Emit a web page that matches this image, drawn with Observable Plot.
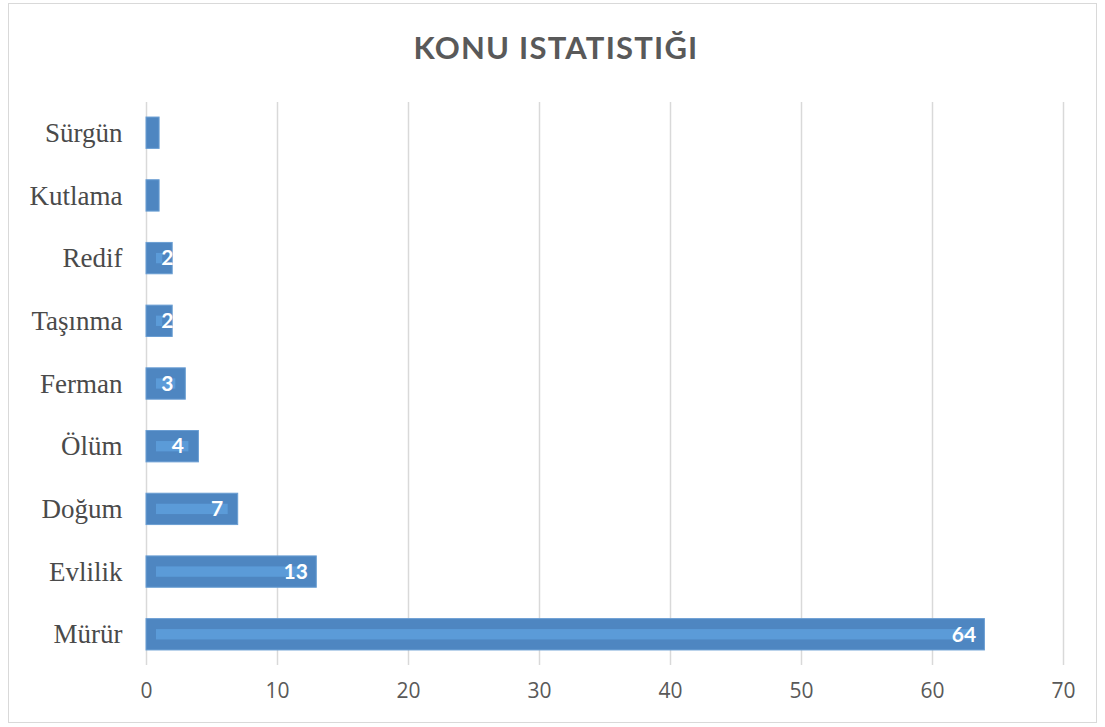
<!DOCTYPE html>
<html>
<head>
<meta charset="utf-8">
<script src="https://cdn.jsdelivr.net/npm/d3@7"></script>
<script src="https://cdn.jsdelivr.net/npm/@observablehq/plot@0.6"></script>
<style>
  html, body { margin: 0; padding: 0; background: #fff; }
  #wrap { position: relative; width: 1105px; height: 727px; overflow: hidden; }
  #frame { position: absolute; left: 8px; top: 3px; width: 1089px; height: 720px; border: 1px solid #d9d9d9; box-sizing: border-box; }
  #title { position: absolute; left: 8px; width: 1096px; top: 28px; text-align: center;
           font-family: Lato, "Open Sans", sans-serif; font-weight: bold; font-size: 31px;
           letter-spacing: 1.2px; color: #595959; }
  #chart { position: absolute; left: 0; top: 90px; }
</style>
</head>
<body>
<div id="wrap">
  <div id="frame"></div>
  <div id="title">KONU ISTATISTIĞI</div>
  <div id="chart"></div>
</div>
<script>
const categories = ["Sürgün", "Kutlama", "Redif", "Taşınma", "Ferman", "Ölüm", "Doğum", "Evlilik", "Mürür"];
const values = [1, 1, 2, 2, 3, 4, 7, 13, 64];
const xTicks = [0, 10, 20, 30, 40, 50, 60, 70];

const data = categories.map((c, i) => ({category: c, value: values[i]}));
const labeled = data.filter(d => d.value >= 2);

const plot = Plot.plot({
  width: 1105,
  height: 630,
  marginLeft: 146,
  marginRight: 42,
  marginTop: 12,
  marginBottom: 55,
  style: {background: "transparent"},
  x: {domain: [0, 70], ticks: xTicks, label: null},
  y: {domain: categories, paddingInner: 0.5, paddingOuter: 0.24, round: false, label: null},
  marks: [
    Plot.ruleX(xTicks, {x: d => d, stroke: "#d9d9d9", strokeWidth: 1.5}),
    Plot.barX(data, {y: "category", x: "value", fill: "#4e86c1", stroke: "#6a9ed3", strokeWidth: 1}),
    Plot.barX(labeled, {y: "category", x: "value", fill: "#5b9bd8", insetLeft: 10, insetRight: 10, insetTop: 10.5, insetBottom: 10.5}),
    Plot.text(labeled, {y: "category", x: d => Math.max(d.value, 3.2), text: d => String(d.value), dx: -21,
      fill: "white", fontWeight: "bold", fontSize: 21, fontFamily: "Lato, 'Open Sans', sans-serif", textAnchor: "middle"}),
    Plot.axisX({ticks: xTicks, tickSize: 0, tickPadding: 18, fontSize: 21, fill: "#595959",
      fontFamily: "'Open Sans', Lato, sans-serif", tickFormat: d => String(d)}),
    Plot.axisY({tickSize: 0, tickPadding: 24, fontSize: 27, fill: "#4a4a4a",
      fontFamily: "'Liberation Serif', 'Times New Roman', serif"})
  ]
});
document.getElementById("chart").appendChild(plot);
</script>
</body>
</html>
